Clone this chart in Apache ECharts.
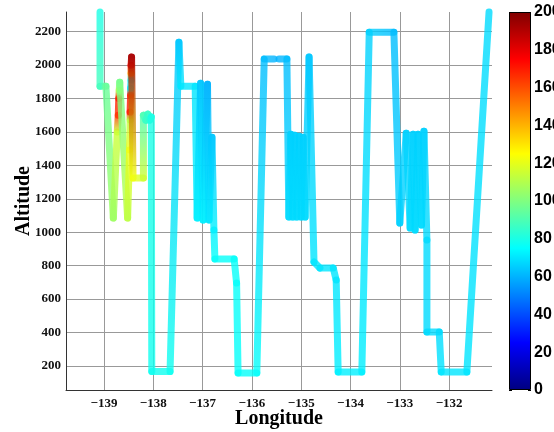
<!DOCTYPE html>
<html>
<head>
<meta charset="utf-8">
<script src="https://cdn.jsdelivr.net/npm/echarts@6/dist/echarts.min.js"></script>
<style>
html, body { margin: 0; padding: 0; background: #fff; }
#chart { width: 554px; height: 432px; }
</style>
</head>
<body>
<div id="chart"></div>
<script>
// flight track, in order; null = gap in the record
const lon = [-139.08, -139.08, -138.96, -138.81, -138.73, -138.71, -138.70, -138.69, -138.68, -138.52,
  -138.48, -138.47, -138.47, -138.46, -138.46, -138.45, -138.45, -138.45, -138.44, -138.41,
  -138.20, -138.20, -138.15, -138.11, -138.07, -138.04, -138.03, -137.66, -137.48, -137.44,
  -137.15, -137.11, -137.04, -136.99, -136.90, -136.87, -136.81, -136.77, -136.75, -136.36,
  -136.31, -136.28, -135.90, -135.75, -135.55, null, -135.45, -135.29, -135.25, -135.21,
  -135.17, -135.13, -135.09, -135.04, -135.00, -134.96, -134.92, -134.84, -134.74, -134.62,
  -134.35, -134.29, -134.25, -133.77, -133.62, -133.12, -133.00, -132.87, -132.79, -132.73,
  -132.69, -132.63, -132.56, -132.51, -132.45, -132.45, -132.20, -132.16, -131.64, -131.19];
const alt = [2318, 1874, 1874, 1085, 1600, 1700, 1800, 1850, 1898, 1085,
  1492, 1671, 1719, 1820, 1862, 1910, 1952, 2000, 2048, 1324,
  1324, 1700, 1670, 1707, 1671, 1690, 166, 166, 2137, 1874,
  1874, 1085, 1892, 1073, 1886, 1073, 1569, 1013, 840, 840,
  696, 158, 158, 2036, 2036, null, 2036, 2036, 1091, 1587,
  1091, 1581, 1091, 1575, 1091, 1569, 1091, 2048, 822, 786,
  786, 714, 164, 164, 2197, 2197, 1055, 1593, 1025, 1587,
  1013, 1587, 1043, 1605, 953, 403, 403, 164, 164, 2318];
const val = [80, 88, 95, 106, 115, 165, 170, 110, 98, 112,
  122, 112, 170, 170, 70, 72, 145, 175, 192, 122,
  115, 90, 86, 86, 84, 80, 78, 78, 64, 70,
  70, 72, 64, 72, 60, 70, 64, 72, 76, 76,
  76, 76, 76, 62, 60, null, 60, 62, 68, 66,
  68, 66, 68, 66, 68, 66, 68, 64, 70, 70,
  70, 70, 72, 72, 66, 62, 66, 66, 68, 66,
  68, 66, 68, 66, 68, 68, 68, 70, 70, 68];

const colorMin = 0;
const colorMax = 200;
const jet = ['#000080', '#0000ff', '#0080ff', '#00ffff', '#80ff80', '#ffff00', '#ff8000', '#ff0000', '#800000'];

const track = lon.map((x, i) => x === null ? ['-', '-', '-'] : [x, alt[i], val[i]]);

const serif = 'Liberation Serif';
const sans = 'Liberation Sans';

const segColors = [];
function renderSegment(params, api) {
  const i = params.dataIndexInside;
  const v = api.value(2);
  segColors[i] = api.visual('color');
  if (i === 0 || isNaN(v) || isNaN(api.value(2, i - 1))) return null;
  const a = api.coord([api.value(0, i - 1), api.value(1, i - 1)]);
  const b = api.coord([api.value(0), api.value(1)]);
  const c0 = segColors[i - 1] || segColors[i];
  return {
    type: 'line',
    shape: { x1: a[0], y1: a[1], x2: b[0], y2: b[1] },
    style: {
      stroke: {
        type: 'linear', x: a[0], y: a[1], x2: b[0], y2: b[1], global: true,
        colorStops: [{ offset: 0, color: c0 }, { offset: 1, color: segColors[i] }]
      },
      lineWidth: 7,
      lineCap: 'round',
      opacity: 0.8
    }
  };
}

const chart = echarts.init(document.getElementById('chart'));
chart.setOption({
  animation: false,
  grid: [
    { left: 66, top: 12, width: 426, height: 378, outerBoundsMode: 'none' },
    { left: 509, top: 12, width: 22, height: 378, outerBoundsMode: 'none' }
  ],
  xAxis: [
    {
      type: 'value', gridIndex: 0, min: -139.77, max: -131.13, splitNumber: 8,
      name: 'Longitude', nameLocation: 'middle', nameGap: 19, nameMoveOverlap: false,
      nameTextStyle: { fontFamily: serif, fontWeight: 'bold', fontSize: 20, color: '#000' },
      axisLine: { lineStyle: { color: '#333' } },
      axisTick: { show: false },
      axisLabel: {
        showMinLabel: false, showMaxLabel: false, margin: 7,
        fontFamily: serif, fontWeight: 'bold', fontSize: 13, color: '#111',
        formatter: v => String(v).replace('-', '\u2212')
      },
      splitLine: { showMaxLine: false, lineStyle: { color: '#999' } }
    },
    { type: 'category', gridIndex: 1, data: ['bar'], show: false }
  ],
  yAxis: [
    {
      type: 'value', gridIndex: 0, min: 56, max: 2318, splitNumber: 11,
      name: 'Altitude', nameLocation: 'middle', nameGap: 32, nameMoveOverlap: false,
      nameTextStyle: { fontFamily: serif, fontWeight: 'bold', fontSize: 20, color: '#000' },
      axisLine: { show: true, lineStyle: { color: '#333' } },
      axisTick: { show: false },
      axisLabel: {
        showMinLabel: false, showMaxLabel: false, margin: 5,
        fontFamily: serif, fontWeight: 'bold', fontSize: 13, color: '#111',
        formatter: v => String(v)
      },
      splitLine: { showMaxLine: false, lineStyle: { color: '#999' } }
    },
    {
      type: 'value', gridIndex: 1, min: colorMin, max: colorMax, interval: 20, position: 'right',
      axisLine: { show: false },
      axisTick: { show: true, inside: true, length: 3, lineStyle: { color: '#000' } },
      axisLabel: { margin: 3, fontFamily: sans, fontWeight: 'bold', fontSize: 16, color: '#000' },
      splitLine: { show: false }
    },
    {
      type: 'value', gridIndex: 1, min: colorMin, max: colorMax, interval: 20, position: 'left',
      axisLine: { show: false },
      axisTick: { show: true, inside: true, length: 3, lineStyle: { color: '#000' } },
      axisLabel: { show: false },
      splitLine: { show: false }
    }
  ],
  visualMap: {
    type: 'continuous', show: false, min: colorMin, max: colorMax,
    dimension: 2, seriesIndex: 0, inRange: { color: jet }
  },
  series: [
    {
      type: 'custom', xAxisIndex: 0, yAxisIndex: 0,
      data: track, encode: { x: 0, y: 1 },
      renderItem: renderSegment
    },
    {
      type: 'bar', xAxisIndex: 1, yAxisIndex: 1, data: [colorMax], barWidth: '100%', silent: true,
      itemStyle: {
        color: new echarts.graphic.LinearGradient(0, 1, 0, 0, jet.map((c, k) => ({ offset: k / (jet.length - 1), color: c }))),
        borderColor: '#000', borderWidth: 1
      }
    }
  ]
});
</script>
</body>
</html>
